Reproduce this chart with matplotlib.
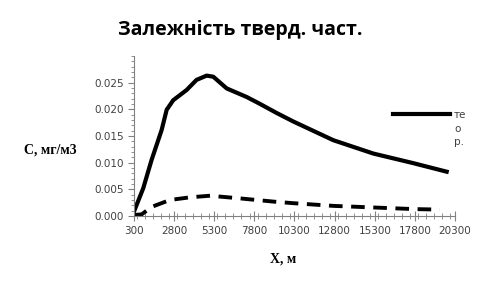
import matplotlib
matplotlib.use("Agg")
import matplotlib.pyplot as plt
from matplotlib.ticker import MultipleLocator, FormatStrFormatter

# data
x_teor = [300, 880, 1400, 2025, 2340, 2750, 3580, 4200, 4830, 5240, 6080,
          7320, 8150, 9190, 10230, 12720, 15210, 17700, 19780]
c_teor = [0.0008, 0.0052, 0.0105, 0.0161, 0.0199, 0.0217, 0.0236, 0.0255,
          0.0263, 0.0261, 0.0239, 0.0223, 0.0210, 0.0193, 0.0177, 0.0142,
          0.0117, 0.0099, 0.0083]

x_exp = [300, 780, 1400, 2540, 3790, 5040, 6900, 8980, 10230, 12700,
         15200, 17700, 19350]
c_exp = [0.0002, 0.0003, 0.0017, 0.0030, 0.0035, 0.0038, 0.0033, 0.0027,
         0.0024, 0.0019, 0.0016, 0.0013, 0.0012]

x_ticks = [300, 2800, 5300, 7800, 10300, 12800, 15300, 17800, 20300]
y_ticks = [0.0, 0.005, 0.010, 0.015, 0.020, 0.025]

# legend label "теор." is wrapped over three lines in the original
legend_lines = ["те", "о", "р."]

fig = plt.figure(figsize=(4.8, 2.88), dpi=100)
ax = fig.add_axes([0.279, 0.25, 0.669, 0.556])

ax.plot(x_teor, c_teor, '-', color='black', lw=3.0, label=legend_lines[0])
ax.plot(x_exp, c_exp, color='black', lw=2.8, dashes=(3.5, 2.2))

ax.set_xlim(300, 20300)
ax.set_ylim(0, 0.03)
ax.set_xticks(x_ticks)
ax.set_yticks(y_ticks)
ax.yaxis.set_major_formatter(FormatStrFormatter('%.3f'))
ax.xaxis.set_minor_locator(MultipleLocator(500))
ax.yaxis.set_minor_locator(MultipleLocator(0.001))

for s in ['top', 'right']:
    ax.spines[s].set_visible(False)
for s in ['left', 'bottom']:
    ax.spines[s].set_color('#808080')
    ax.spines[s].set_linewidth(0.8)

ax.tick_params(axis='x', which='major', direction='inout', length=7,
               color='#808080', labelsize=7.5, labelcolor='#404040')
ax.tick_params(axis='x', which='minor', direction='inout', length=4,
               color='#808080')
ax.tick_params(axis='y', which='major', direction='out', length=4,
               color='#808080', labelsize=7.5, labelcolor='#404040')
ax.tick_params(axis='y', which='minor', direction='out', length=2.5,
               color='#808080')

fig.text(0.5, 0.895, "Залежність тверд. част.", ha='center', va='center',
         fontsize=14, fontweight='bold', family='Open Sans')
fig.text(0.105, 0.48, "C, мг/м3", ha='center', va='center',
         fontsize=10, fontweight='bold', family='Liberation Serif')
fig.text(0.59, 0.1, "X, м", ha='center', va='center',
         fontsize=10, fontweight='bold', family='Liberation Serif')

leg = ax.legend(loc='center left', bbox_to_anchor=(0.807, 0.631), frameon=False,
                fontsize=7.5, handlelength=5.5, handletextpad=0.35,
                borderaxespad=0, borderpad=0)
for t in leg.get_texts():
    t.set_color('#404040')

# remaining wrapped lines of the legend label
for i, txt in enumerate(legend_lines[1:]):
    ax.text(0.9965, 0.631 - 0.085 * (i + 1), txt, transform=ax.transAxes,
            ha='left', va='center', fontsize=7.5, color='#404040')

fig.savefig('out.png', dpi=100)
